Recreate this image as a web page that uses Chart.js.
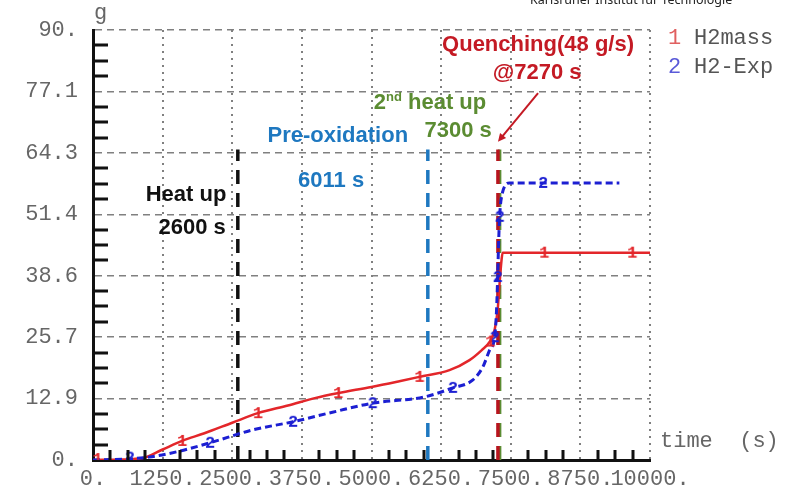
<!DOCTYPE html>
<html>
<head>
<meta charset="utf-8">
<script src="https://cdn.jsdelivr.net/npm/chart.js@4/dist/chart.umd.min.js"></script>
<style>
  html, body { margin: 0; padding: 0; background: #fff; }
  #wrap { position: relative; width: 794px; height: 489px; overflow: hidden; }
</style>
</head>
<body>
<div id="wrap"><canvas id="h2Chart" width="794" height="489"></canvas></div>
<script>
// axis ticks
const xTickLabels = ["0.", "1250.", "2500.", "3750.", "5000.", "6250.", "7500.", "8750.", "10000."];
const yTickLabels = ["0.", "12.9", "25.7", "38.6", "51.4", "64.3", "77.1", "90."];
const xMax = 10000;
const yMax = 90;

// 1: H2mass (simulation), time in s, mass in g
const timeH2mass = [0, 500, 900, 1250, 1600, 2000, 2500, 2960, 3500, 4000, 4400, 5000, 5500, 5860, 6400, 6760, 6980, 7120, 7210, 7265, 7300, 7335, 7355, 10000];
const valH2mass  = [0, 0.1, 0.4, 2.2, 4.0, 5.6, 7.8, 9.8, 11.4, 13.0, 14.0, 15.3, 16.5, 17.4, 18.8, 20.9, 23.0, 24.7, 27.2, 31.4, 37.0, 41.9, 43.4, 43.4];

// 2: H2-Exp (experiment)
const timeH2Exp = [0, 600, 1000, 1500, 2100, 2870, 3590, 4300, 5020, 5950, 6460, 6815, 7000, 7120, 7210, 7245, 7265, 7280, 7300, 7350, 7480, 9450];
const valH2Exp  = [0, 0.2, 0.6, 1.7, 3.6, 6.3, 8.0, 10.0, 11.9, 13.2, 15.1, 16.7, 19.5, 23.0, 25.7, 31.4, 38.3, 44.6, 50.9, 55.9, 58.0, 58.0];

// curve number marks
const markTimeH2mass = [80, 1600, 2960, 4400, 5860, 7130, 8100, 9680];
const markValH2mass  = [0.2, 4.0, 9.8, 14.0, 17.4, 24.8, 43.4, 43.4];
const markTimeH2Exp  = [660, 2100, 3590, 5020, 6460, 7210, 7265, 7300, 8080];
const markValH2Exp   = [0.5, 3.6, 8.0, 11.9, 15.1, 25.7, 38.3, 50.9, 58.0];

// phase markers (s) and how high the dashed lines go (g)
const phaseTimes = [2600, 6011, 7270, 7300];
const phaseColors = ["#111111", "#1e78c0", "#b8141e", "#5b8c32"];
const phaseTop = 65;

const MONO = "'Liberation Mono', 'Courier New', monospace";
const SANS = "'Liberation Sans', Arial, sans-serif";

function toXY(xs, ys) {
    return xs.map((x, i) => ({ x: x, y: ys[i] }));
}

function glyph(ch, color) {
    const c = document.createElement("canvas");
    c.width = 14;
    c.height = 18;
    const g = c.getContext("2d");
    g.font = "bold 17px " + MONO;
    g.fillStyle = color;
    g.textAlign = "center";
    g.textBaseline = "middle";
    g.fillText(ch, 7, 10);
    return c;
}

const datasets = [];

phaseTimes.forEach((t, i) => {
    datasets.push({
        data: [{ x: t, y: 0 }, { x: t, y: phaseTop }],
        borderColor: phaseColors[i],
        borderWidth: 3.5,
        borderDash: [14, 9],
        pointRadius: 0,
        order: 5
    });
});

datasets.push({
    label: "H2mass",
    data: toXY(timeH2mass, valH2mass),
    borderColor: "#e3262a",
    borderWidth: 2.5,
    pointRadius: 0,
    cubicInterpolationMode: "monotone",
    order: 3
});
datasets.push({
    label: "H2-Exp",
    data: toXY(timeH2Exp, valH2Exp),
    borderColor: "#1c1fd2",
    borderWidth: 3,
    borderDash: [7, 4],
    pointRadius: 0,
    cubicInterpolationMode: "monotone",
    order: 2
});
datasets.push({
    data: toXY(markTimeH2mass, markValH2mass),
    showLine: false,
    pointStyle: glyph("1", "#e3262a"),
    pointRadius: 6,
    order: 1
});
datasets.push({
    data: toXY(markTimeH2Exp, markValH2Exp),
    showLine: false,
    pointStyle: glyph("2", "#1c1fd2"),
    pointRadius: 6,
    order: 1
});

// inward minor ticks, three between each pair of major ticks
const minorTicks = {
    id: "minorTicks",
    afterDraw(chart) {
        const ctx = chart.ctx;
        const xs = chart.scales.x, ys = chart.scales.y;
        const area = chart.chartArea;
        ctx.save();
        ctx.strokeStyle = "#111";
        ctx.lineWidth = 3;
        ctx.beginPath();
        const xStep = xMax / (xTickLabels.length - 1);
        for (let i = 0; i < xTickLabels.length - 1; i++) {
            for (let k = 1; k < 4; k++) {
                const px = Math.round(xs.getPixelForValue(i * xStep + k * xStep / 4));
                ctx.moveTo(px, area.bottom);
                ctx.lineTo(px, area.bottom - 10);
            }
        }
        const yStep = yMax / (yTickLabels.length - 1);
        for (let i = 0; i < yTickLabels.length - 1; i++) {
            for (let k = 1; k < 4; k++) {
                const py = Math.round(ys.getPixelForValue(i * yStep + k * yStep / 4));
                ctx.moveTo(area.left, py);
                ctx.lineTo(area.left + 15, py);
            }
        }
        ctx.stroke();
        ctx.restore();
    }
};

// phase notes, axis titles and the legend
const notes = {
    id: "notes",
    afterDraw(chart) {
        const ctx = chart.ctx;
        const xs = chart.scales.x, ys = chart.scales.y;
        const px = t => xs.getPixelForValue(t);
        const py = v => ys.getPixelForValue(v);

        ctx.save();
        ctx.textAlign = "center";
        ctx.textBaseline = "middle";
        ctx.font = "bold 22px " + SANS;

        const put = (text, t, v, color) => {
            ctx.fillStyle = color;
            ctx.fillText(text, px(t), py(v));
        };
        put("Heat up", 1670, 55.5, "#111111");
        put("2600 s", 1780, 48.6, "#111111");
        put("Pre-oxidation", 4395, 67.8, "#1e78c0");
        put("6011 s", 4275, 58.4, "#1e78c0");
        put("7300 s", 6555, 68.9, "#5b8c32");
        put("Quenching(48 g/s)", 7990, 86.9, "#c41a24");
        put("@7270 s", 7975, 81.0, "#c41a24");

        // "2nd heat up" with raised suffix
        ctx.textAlign = "left";
        ctx.fillStyle = "#5b8c32";
        const big = "bold 22px " + SANS, small = "bold 13px " + SANS;
        ctx.font = big;
        const w1 = ctx.measureText("2").width;
        const w3 = ctx.measureText(" heat up").width;
        ctx.font = small;
        const w2 = ctx.measureText("nd").width;
        let x0 = px(6050) - (w1 + w2 + w3) / 2;
        const y0 = py(74.7);
        ctx.font = big;
        ctx.fillText("2", x0, y0);
        ctx.font = small;
        ctx.fillText("nd", x0 + w1, y0 - 6);
        ctx.font = big;
        ctx.fillText(" heat up", x0 + w1 + w2, y0);

        // arrow down to the quench time
        const ax0 = px(7990), ay0 = py(76.8);
        const ax1 = px(7270), ay1 = py(66.6);
        const ang = Math.atan2(ay1 - ay0, ax1 - ax0);
        ctx.strokeStyle = "#c41a24";
        ctx.fillStyle = "#c41a24";
        ctx.lineWidth = 2;
        ctx.beginPath();
        ctx.moveTo(ax0, ay0);
        ctx.lineTo(ax1 - 6 * Math.cos(ang), ay1 - 6 * Math.sin(ang));
        ctx.stroke();
        ctx.beginPath();
        ctx.moveTo(ax1, ay1);
        ctx.lineTo(ax1 - 9 * Math.cos(ang - 0.45), ay1 - 9 * Math.sin(ang - 0.45));
        ctx.lineTo(ax1 - 9 * Math.cos(ang + 0.45), ay1 - 9 * Math.sin(ang + 0.45));
        ctx.closePath();
        ctx.fill();

        // axis titles
        ctx.font = "22px " + MONO;
        ctx.fillStyle = "#666";
        ctx.textBaseline = "middle";
        ctx.fillText("g", 94, 13);
        ctx.fillText("time  (s)", 660, 441);

        // legend
        ctx.fillStyle = "#e06060";
        ctx.fillText("1", 668, 38);
        ctx.fillStyle = "#5a5ad8";
        ctx.fillText("2", 668, 67);
        ctx.fillStyle = "#555";
        ctx.fillText("H2mass", 694, 38);
        ctx.fillText("H2-Exp", 694, 67);

        // institute name along the top edge
        ctx.font = "12.5px 'Noto Sans', 'Open Sans', sans-serif";
        ctx.fillStyle = "#222";
        ctx.textBaseline = "alphabetic";
        ctx.fillText("Karlsruher Institut für Technologie", 530, 4);
        ctx.restore();
    }
};

new Chart(document.getElementById("h2Chart"), {
    type: "line",
    data: { datasets: datasets },
    options: {
        responsive: false,
        animation: false,
        layout: { padding: { top: 30, right: 144, left: 0, bottom: 0 } },
        plugins: {
            legend: { display: false },
            tooltip: { enabled: false }
        },
        scales: {
            x: {
                type: "linear",
                min: 0,
                max: xMax,
                afterBuildTicks: s => {
                    s.ticks = xTickLabels.map((_, i) => ({ value: i * xMax / (xTickLabels.length - 1) }));
                },
                afterFit: s => { s.height = 29; },
                ticks: {
                    autoSkip: false,
                    maxRotation: 0,
                    padding: 6,
                    color: "#666",
                    font: { family: MONO, size: 22 },
                    callback: (v, i) => xTickLabels[i]
                },
                grid: { color: "#808080", lineWidth: 2, drawTicks: false },
                border: { display: true, color: "#111", width: 3, dash: [2, 5] }
            },
            y: {
                min: 0,
                max: yMax,
                afterBuildTicks: s => {
                    s.ticks = yTickLabels.map((_, i) => ({ value: i * yMax / (yTickLabels.length - 1) }));
                },
                afterFit: s => { s.width = 93; },
                ticks: {
                    padding: 15,
                    color: "#666",
                    font: { family: MONO, size: 22 },
                    callback: (v, i) => yTickLabels[i]
                },
                grid: { color: "#808080", lineWidth: 1.5, drawTicks: false },
                border: { display: true, color: "#111", width: 3, dash: [7, 5] }
            }
        }
    },
    plugins: [minorTicks, notes]
});
</script>
</body>
</html>
